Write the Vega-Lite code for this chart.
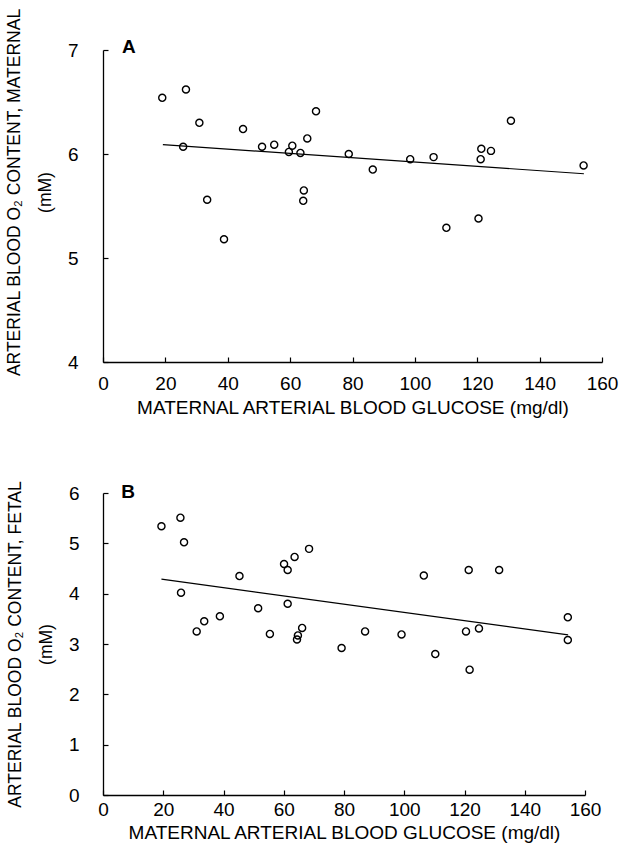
{
  "$schema": "https://vega.github.io/schema/vega-lite/v6.json",
  "background": "white",
  "padding": {"left": 5, "top": 8, "right": 5, "bottom": 3},
  "spacing": 63,
  "datasets": {
    "pointsA": [
      {"glucose": 19.0, "o2": 6.54}, {"glucose": 26.6, "o2": 6.62}, {"glucose": 30.9, "o2": 6.30},
      {"glucose": 25.7, "o2": 6.07}, {"glucose": 44.9, "o2": 6.24}, {"glucose": 51.0, "o2": 6.07},
      {"glucose": 54.9, "o2": 6.09}, {"glucose": 60.7, "o2": 6.08}, {"glucose": 59.6, "o2": 6.02},
      {"glucose": 63.3, "o2": 6.01}, {"glucose": 65.5, "o2": 6.15}, {"glucose": 68.3, "o2": 6.41},
      {"glucose": 33.4, "o2": 5.56}, {"glucose": 38.8, "o2": 5.18}, {"glucose": 64.4, "o2": 5.65},
      {"glucose": 64.2, "o2": 5.55}, {"glucose": 78.8, "o2": 6.00}, {"glucose": 86.5, "o2": 5.85},
      {"glucose": 98.5, "o2": 5.95}, {"glucose": 106.0, "o2": 5.97}, {"glucose": 121.3, "o2": 6.05},
      {"glucose": 124.4, "o2": 6.03}, {"glucose": 121.1, "o2": 5.95}, {"glucose": 130.8, "o2": 6.32},
      {"glucose": 154.1, "o2": 5.89}, {"glucose": 110.1, "o2": 5.29}, {"glucose": 120.4, "o2": 5.38}
    ],
    "lineA": [{"glucose": 19.2, "o2": 6.09}, {"glucose": 154.2, "o2": 5.81}],
    "pointsB": [
      {"glucose": 19.4, "o2": 5.34}, {"glucose": 25.7, "o2": 5.51}, {"glucose": 26.9, "o2": 5.02},
      {"glucose": 25.9, "o2": 4.02}, {"glucose": 31.1, "o2": 3.25}, {"glucose": 33.6, "o2": 3.45},
      {"glucose": 38.8, "o2": 3.55}, {"glucose": 45.3, "o2": 4.35}, {"glucose": 51.5, "o2": 3.71},
      {"glucose": 55.4, "o2": 3.20}, {"glucose": 60.1, "o2": 4.59}, {"glucose": 61.3, "o2": 4.47},
      {"glucose": 63.6, "o2": 4.73}, {"glucose": 68.4, "o2": 4.89}, {"glucose": 61.3, "o2": 3.80},
      {"glucose": 66.1, "o2": 3.32}, {"glucose": 64.7, "o2": 3.17}, {"glucose": 64.4, "o2": 3.09},
      {"glucose": 79.2, "o2": 2.92}, {"glucose": 87.0, "o2": 3.25}, {"glucose": 99.1, "o2": 3.19},
      {"glucose": 106.5, "o2": 4.36}, {"glucose": 110.3, "o2": 2.80}, {"glucose": 121.4, "o2": 4.47},
      {"glucose": 120.5, "o2": 3.25}, {"glucose": 124.8, "o2": 3.31}, {"glucose": 121.7, "o2": 2.49},
      {"glucose": 131.5, "o2": 4.47}, {"glucose": 154.3, "o2": 3.53}, {"glucose": 154.3, "o2": 3.08}
    ],
    "lineB": [{"glucose": 19.4, "o2": 4.29}, {"glucose": 154.4, "o2": 3.18}],
    "labelA": [{"label": "A"}],
    "labelB": [{"label": "B"}]
  },
  "config": {
    "view": {"stroke": null},
    "font": "Liberation Sans",
    "axis": {
      "grid": false,
      "domainColor": "black",
      "domainWidth": 1.3,
      "tickColor": "black",
      "tickWidth": 1.2,
      "tickSize": -5,
      "labelColor": "black",
      "titleColor": "black",
      "labelFontSize": 19,
      "titleFontSize": 19,
      "titleFontWeight": "normal",
      "labelFont": "Liberation Sans",
      "titleFont": "Liberation Sans"
    }
  },
  "vconcat": [
    {
      "width": 499,
      "height": 312,
      "layer": [
        {
          "data": {"name": "pointsA"},
          "mark": {"type": "point", "shape": "circle", "size": 50, "color": "black", "strokeWidth": 1.4, "filled": false, "opacity": 1},
          "encoding": {
            "x": {"field": "glucose", "type": "quantitative",
              "scale": {"domain": [0, 160], "nice": false, "zero": false},
              "axis": {"title": "MATERNAL ARTERIAL BLOOD GLUCOSE (mg/dl)",
                "values": [0,10,20,30,40,50,60,70,80,90,100,110,120,130,140,150,160],
                "labelExpr": "datum.value % 20 === 0 ? datum.label : ''",
                "labelPadding": 17, "titlePadding": 5, "labelFlush": false, "labelOverlap": false}},
            "y": {"field": "o2", "type": "quantitative",
              "scale": {"domain": [4, 7], "nice": false, "zero": false},
              "axis": {"title": ["ARTERIAL BLOOD O₂ CONTENT, MATERNAL", "(mM)"],
                "values": [4, 4.5, 5, 5.5, 6, 6.5, 7],
                "format": "d",
                "labelExpr": "datum.value % 1 === 0 ? datum.label : ''",
                "labelPadding": 30, "titlePadding": 13, "titleFontSize": 17.5,
                "titleLineHeight": 31, "titleY": 142, "labelFlush": false, "labelOverlap": false}}
          }
        },
        {
          "data": {"name": "lineA"},
          "mark": {"type": "line", "color": "black", "strokeWidth": 1.2},
          "encoding": {
            "x": {"field": "glucose", "type": "quantitative"},
            "y": {"field": "o2", "type": "quantitative"}
          }
        },
        {
          "data": {"name": "labelA"},
          "mark": {"type": "text", "fontWeight": "bold", "fontSize": 19, "color": "black", "baseline": "middle", "align": "center"},
          "encoding": {
            "text": {"field": "label"},
            "x": {"datum": 8.3, "type": "quantitative"},
            "y": {"datum": 7.03, "type": "quantitative"}
          }
        }
      ]
    },
    {
      "width": 482,
      "height": 302,
      "layer": [
        {
          "data": {"name": "pointsB"},
          "mark": {"type": "point", "shape": "circle", "size": 50, "color": "black", "strokeWidth": 1.4, "filled": false, "opacity": 1},
          "encoding": {
            "x": {"field": "glucose", "type": "quantitative",
              "scale": {"domain": [0, 160], "nice": false, "zero": false},
              "axis": {"title": "MATERNAL ARTERIAL BLOOD GLUCOSE (mg/dl)",
                "values": [0,10,20,30,40,50,60,70,80,90,100,110,120,130,140,150,160],
                "labelExpr": "datum.value % 20 === 0 ? datum.label : ''",
                "labelPadding": 10, "titlePadding": 4, "labelFlush": false, "labelOverlap": false}},
            "y": {"field": "o2", "type": "quantitative",
              "scale": {"domain": [0, 6], "nice": false, "zero": false},
              "axis": {"title": ["ARTERIAL BLOOD O₂ CONTENT, FETAL", "(mM)"],
                "values": [0, 0.5, 1, 1.5, 2, 2.5, 3, 3.5, 4, 4.5, 5, 5.5, 6],
                "format": "d",
                "labelExpr": "datum.value % 1 === 0 ? datum.label : ''",
                "labelPadding": 29, "titlePadding": 13, "titleFontSize": 17.5,
                "titleLineHeight": 31, "labelFlush": false, "labelOverlap": false}}
          }
        },
        {
          "data": {"name": "lineB"},
          "mark": {"type": "line", "color": "black", "strokeWidth": 1.2},
          "encoding": {
            "x": {"field": "glucose", "type": "quantitative"},
            "y": {"field": "o2", "type": "quantitative"}
          }
        },
        {
          "data": {"name": "labelB"},
          "mark": {"type": "text", "fontWeight": "bold", "fontSize": 19, "color": "black", "baseline": "middle", "align": "center"},
          "encoding": {
            "text": {"field": "label"},
            "x": {"datum": 8.3, "type": "quantitative"},
            "y": {"datum": 6.02, "type": "quantitative"}
          }
        }
      ]
    }
  ]
}
